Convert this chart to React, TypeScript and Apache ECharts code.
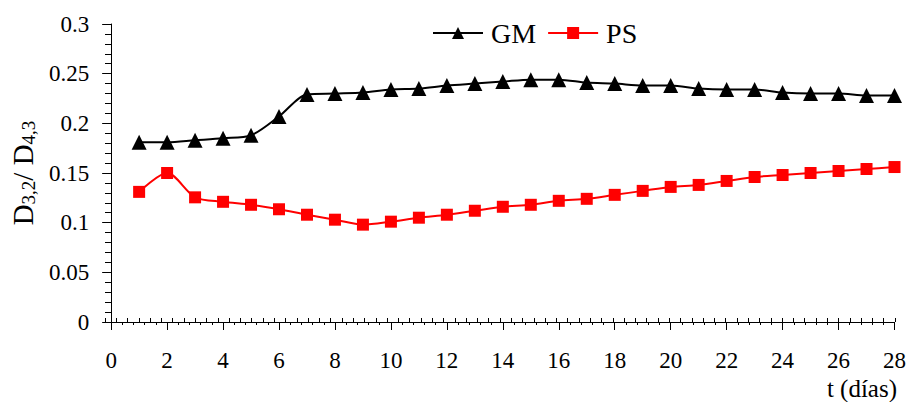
import React, { useEffect, useRef } from "react";
import * as echarts from "echarts";

const days = [1, 2, 3, 4, 5, 6, 7, 8, 9, 10, 11, 12, 13, 14, 15, 16, 17, 18, 19, 20, 21, 22, 23, 24, 25, 26, 27, 28];
const gmValues = [0.181, 0.181, 0.183, 0.185, 0.188, 0.207, 0.229, 0.230, 0.231, 0.234, 0.235, 0.238, 0.240, 0.242, 0.244, 0.244, 0.241, 0.240, 0.238, 0.238, 0.235, 0.234, 0.234, 0.231, 0.230, 0.230, 0.228, 0.228];
const psValues = [0.131, 0.150, 0.1255, 0.121, 0.118, 0.1135, 0.108, 0.103, 0.098, 0.101, 0.105, 0.108, 0.112, 0.116, 0.118, 0.122, 0.124, 0.128, 0.132, 0.136, 0.138, 0.142, 0.146, 0.148, 0.150, 0.152, 0.154, 0.156];
const seriesNames = ["GM", "PS"];
const xAxisTitle = "t (días)";

const FONT = "Liberation Serif, Times New Roman, serif";

export default function App() {
  const ref = useRef<HTMLDivElement>(null);
  useEffect(() => {
    if (!ref.current) return;
    const chart = echarts.init(ref.current, undefined, { renderer: "svg" });
    const gridBox = { left: 105, right: 14, top: 24, bottom: 80 };
    const baseX = { type: "value", min: 0, max: 28, interval: 2, splitLine: { show: false } };
    const baseY = { type: "value", min: 0, max: 0.3, interval: 0.05, splitLine: { show: false } };
    chart.setOption({
      animation: false,
      backgroundColor: "#fff",
      textStyle: { fontFamily: FONT },
      grid: [{ ...gridBox }, { ...gridBox }],
      legend: {
        left: 427,
        top: 14,
        itemWidth: 50,
        itemHeight: 15,
        itemGap: 11,
        data: seriesNames,
        textStyle: { fontSize: 28, fontFamily: FONT, color: "#000", padding: [0, 0, 0, 3] },
      },
      xAxis: [
        {
          ...baseX,
          gridIndex: 0,
          axisLine: { show: true, lineStyle: { color: "#000", width: 1 } },
          axisTick: { show: true, inside: false, length: 8, lineStyle: { color: "#000", width: 1 } },
          minorTick: { show: true, splitNumber: 5, length: 3, lineStyle: { color: "#000", width: 1 } },
          axisLabel: { fontSize: 23, fontFamily: FONT, color: "#000", margin: 27 },
        },
        {
          ...baseX,
          gridIndex: 1,
          axisLine: { show: false },
          axisTick: { show: true, inside: true, length: 4, lineStyle: { color: "#000", width: 1 } },
          minorTick: { show: true, splitNumber: 5, length: 4, lineStyle: { color: "#000", width: 1 } },
          axisLabel: { show: false },
        },
      ],
      yAxis: [
        {
          ...baseY,
          gridIndex: 0,
          axisLine: { show: true, lineStyle: { color: "#000", width: 1 } },
          axisTick: { show: true, inside: false, length: 9, lineStyle: { color: "#000", width: 1 } },
          minorTick: { show: true, splitNumber: 5, length: 6, lineStyle: { color: "#000", width: 1 } },
          axisLabel: { fontSize: 23, fontFamily: FONT, color: "#000", margin: 22 },
          name: "{m|D}{s|3,2}{m|/ D}{s|4,3}",
          nameLocation: "middle",
          nameRotate: 90,
          nameGap: 68,
          nameTextStyle: {
            rich: {
              m: { fontSize: 29, fontFamily: FONT, color: "#000", lineHeight: 31 },
              s: { fontSize: 19, fontFamily: FONT, color: "#000", verticalAlign: "bottom" },
            },
          },
        },
        {
          ...baseY,
          gridIndex: 1,
          axisLine: { show: false },
          axisTick: { show: true, inside: true, length: 4, lineStyle: { color: "#000", width: 1 } },
          minorTick: { show: true, splitNumber: 5, length: 3, lineStyle: { color: "#000", width: 1 } },
          axisLabel: { show: false },
        },
      ],
      graphic: [
        {
          type: "text",
          right: 12,
          top: 376,
          style: { text: xAxisTitle, font: `25px ${FONT}`, fill: "#000" },
        },
      ],
      series: [
        {
          name: seriesNames[0],
          type: "line",
          xAxisIndex: 0,
          yAxisIndex: 0,
          data: days.map((d, i) => [d, gmValues[i]]),
          symbol: "triangle",
          symbolSize: 15,
          smooth: 0.3,
          lineStyle: { color: "#000", width: 2 },
          itemStyle: { color: "#000" },
        },
        {
          name: seriesNames[1],
          type: "line",
          xAxisIndex: 0,
          yAxisIndex: 0,
          data: days.map((d, i) => [d, psValues[i]]),
          symbol: "rect",
          symbolSize: 12,
          smooth: 0.3,
          lineStyle: { color: "#ff0000", width: 2 },
          itemStyle: { color: "#ff0000" },
        },
      ],
    });
    return () => chart.dispose();
  }, []);
  return (
    <div
      ref={ref}
      style={{ position: "fixed", left: 0, top: 0, width: 909, height: 402, background: "#fff" }}
    />
  );
}
